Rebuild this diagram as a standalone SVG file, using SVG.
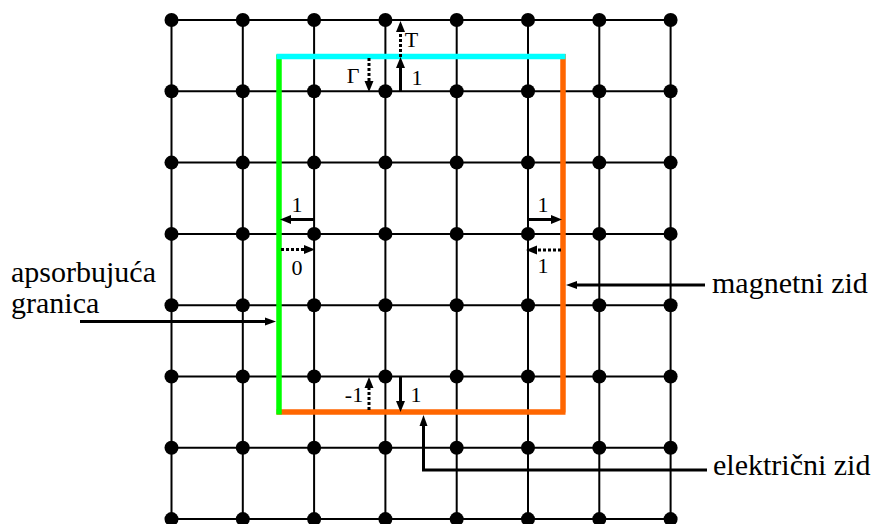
<svg xmlns="http://www.w3.org/2000/svg" width="875" height="524" viewBox="0 0 875 524">
<rect width="875" height="524" fill="#fff"/>
<text style="font-family:'Liberation Serif',serif;font-size:30px" x="11" y="282">apsorbujuća</text>
<text style="font-family:'Liberation Serif',serif;font-size:30px" x="11" y="313">granica</text>
<text style="font-family:'Liberation Serif',serif;font-size:30px" x="712" y="293">magnetni zid</text>
<text style="font-family:'Liberation Serif',serif;font-size:30px" x="713" y="475">električni zid</text>
<g id="grid" stroke="#000" stroke-width="2" fill="none">
<path d="M171.5,20H670.6M171.5,91.3H670.6M171.5,162.6H670.6M171.5,233.9H670.6M171.5,305.2H670.6M171.5,376.5H670.6M171.5,447.8H670.6M171.5,519.1H670.6"/>
<path d="M171.5,20V524M242.8,20V524M314.1,20V524M385.4,20V524M456.7,20V524M528,20V524M599.3,20V524M670.6,20V524"/>
</g>
<g id="nodes" fill="#000">
<g id="r0"><circle r="7" cx="171.5" cy="20"/><circle r="7" cx="242.8" cy="20"/><circle r="7" cx="314.1" cy="20"/><circle r="7" cx="385.4" cy="20"/><circle r="7" cx="456.7" cy="20"/><circle r="7" cx="528" cy="20"/><circle r="7" cx="599.3" cy="20"/><circle r="7" cx="670.6" cy="20"/></g>
<g id="r1"><circle r="7" cx="171.5" cy="91.3"/><circle r="7" cx="242.8" cy="91.3"/><circle r="7" cx="314.1" cy="91.3"/><circle r="7" cx="385.4" cy="91.3"/><circle r="7" cx="456.7" cy="91.3"/><circle r="7" cx="528" cy="91.3"/><circle r="7" cx="599.3" cy="91.3"/><circle r="7" cx="670.6" cy="91.3"/></g>
<g id="r2"><circle r="7" cx="171.5" cy="162.6"/><circle r="7" cx="242.8" cy="162.6"/><circle r="7" cx="314.1" cy="162.6"/><circle r="7" cx="385.4" cy="162.6"/><circle r="7" cx="456.7" cy="162.6"/><circle r="7" cx="528" cy="162.6"/><circle r="7" cx="599.3" cy="162.6"/><circle r="7" cx="670.6" cy="162.6"/></g>
<g id="r3"><circle r="7" cx="171.5" cy="233.9"/><circle r="7" cx="242.8" cy="233.9"/><circle r="7" cx="314.1" cy="233.9"/><circle r="7" cx="385.4" cy="233.9"/><circle r="7" cx="456.7" cy="233.9"/><circle r="7" cx="528" cy="233.9"/><circle r="7" cx="599.3" cy="233.9"/><circle r="7" cx="670.6" cy="233.9"/></g>
<g id="r4"><circle r="7" cx="171.5" cy="305.2"/><circle r="7" cx="242.8" cy="305.2"/><circle r="7" cx="314.1" cy="305.2"/><circle r="7" cx="385.4" cy="305.2"/><circle r="7" cx="456.7" cy="305.2"/><circle r="7" cx="528" cy="305.2"/><circle r="7" cx="599.3" cy="305.2"/><circle r="7" cx="670.6" cy="305.2"/></g>
<g id="r5"><circle r="7" cx="171.5" cy="376.5"/><circle r="7" cx="242.8" cy="376.5"/><circle r="7" cx="314.1" cy="376.5"/><circle r="7" cx="385.4" cy="376.5"/><circle r="7" cx="456.7" cy="376.5"/><circle r="7" cx="528" cy="376.5"/><circle r="7" cx="599.3" cy="376.5"/><circle r="7" cx="670.6" cy="376.5"/></g>
<g id="r6"><circle r="7" cx="171.5" cy="447.8"/><circle r="7" cx="242.8" cy="447.8"/><circle r="7" cx="314.1" cy="447.8"/><circle r="7" cx="385.4" cy="447.8"/><circle r="7" cx="456.7" cy="447.8"/><circle r="7" cx="528" cy="447.8"/><circle r="7" cx="599.3" cy="447.8"/><circle r="7" cx="670.6" cy="447.8"/></g>
<g id="r7"><circle r="7" cx="171.5" cy="519.1"/><circle r="7" cx="242.8" cy="519.1"/><circle r="7" cx="314.1" cy="519.1"/><circle r="7" cx="385.4" cy="519.1"/><circle r="7" cx="456.7" cy="519.1"/><circle r="7" cx="528" cy="519.1"/><circle r="7" cx="599.3" cy="519.1"/><circle r="7" cx="670.6" cy="519.1"/></g>
</g>
<g id="walls" fill="none" stroke-width="5.5">
<path d="M563,54V412.5M276.5,412H565.5" stroke="#ff6600"/>
<path d="M279,54.5V414.5" stroke="#00ff00"/>
<path d="M276.5,56.5H565.5" stroke="#00ffff"/>
</g>
<g id="connectors">
<g stroke="#000" stroke-width="3" fill="none">
<path d="M400.5,91V68"/>
<path d="M400.5,57V32" stroke-dasharray="3,2"/>
<path d="M369,58V81" stroke-dasharray="3,2"/>
<path d="M314,219.5H291"/>
<path d="M281,249.5H304" stroke-dasharray="3,2"/>
<path d="M527,219.5H551"/>
<path d="M561,250H537" stroke-dasharray="3,2"/>
<path d="M369,410V388" stroke-dasharray="3,2"/>
<path d="M400.5,377V401"/>
<path d="M705,285H577"/>
<path d="M80,321.5H265"/>
<path d="M707,470H423.5V426"/>
</g>
<g fill="#000">
<path d="M396,68L400.5,57L405,68Z"/>
<path d="M396,32L400.5,21L405,32Z"/>
<path d="M364.5,81L369,92L373.5,81Z"/>
<path d="M291,215L280,219.5L291,224Z"/>
<path d="M304,245L315,249.5L304,254Z"/>
<path d="M551,215L562,219.5L551,224Z"/>
<path d="M537,245.5L526,250L537,254.5Z"/>
<path d="M364.5,388L369,377L373.5,388Z"/>
<path d="M396,401L400.5,412L405,401Z"/>
<path d="M577,281L566,285L577,289Z"/>
<path d="M265,317.5L276,321.5L265,325.5Z"/>
<path d="M419.5,426L423.5,415L427.5,426Z"/>
</g>
</g>
<text style="font-family:'Liberation Serif',serif;font-size:22px" text-anchor="middle" x="411.5" y="47">T</text>
<text style="font-family:'Liberation Serif',serif;font-size:22px" text-anchor="middle" x="417" y="85">1</text>
<text style="font-family:'Liberation Serif',serif;font-size:22px" text-anchor="middle" x="353" y="83">Γ</text>
<text style="font-family:'Liberation Serif',serif;font-size:22px" text-anchor="middle" x="297" y="212">1</text>
<text style="font-family:'Liberation Serif',serif;font-size:22px" text-anchor="middle" x="297" y="275">0</text>
<text style="font-family:'Liberation Serif',serif;font-size:22px" text-anchor="middle" x="543" y="212">1</text>
<text style="font-family:'Liberation Serif',serif;font-size:22px" text-anchor="middle" x="543" y="273">1</text>
<text style="font-family:'Liberation Serif',serif;font-size:22px" text-anchor="middle" x="354" y="402">-1</text>
<text style="font-family:'Liberation Serif',serif;font-size:22px" text-anchor="middle" x="416" y="402">1</text>
</svg>
